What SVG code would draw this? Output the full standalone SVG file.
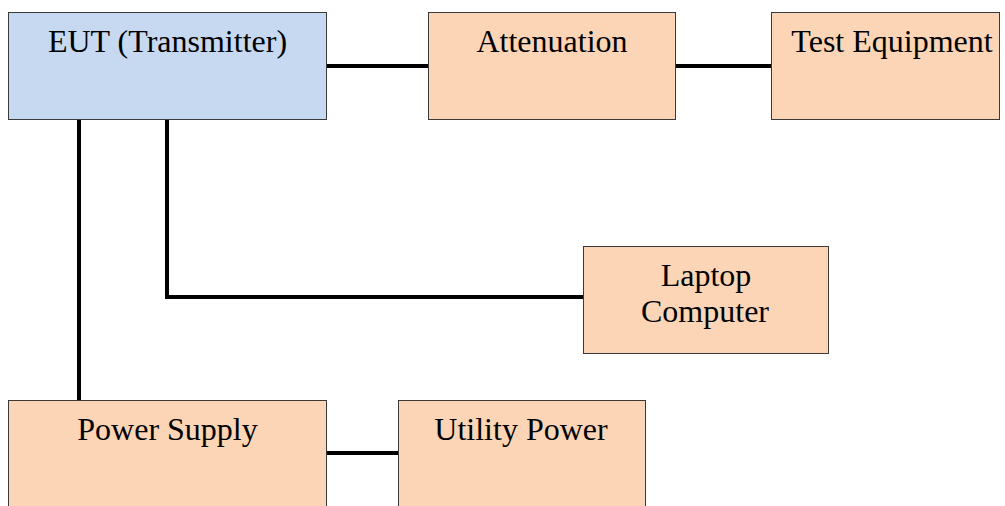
<svg xmlns="http://www.w3.org/2000/svg" width="1005" height="506" viewBox="0 0 1005 506">
<style>
.box{stroke:#3a3a3a;stroke-width:1}
.blue{fill:#c6d9f1}
.orange{fill:#fbd5b5}
.t{font-family:"Liberation Serif","Times New Roman",serif;font-size:32px;fill:#000;text-anchor:middle}
.c{stroke:#000;stroke-width:4;fill:none}
</style>
<rect width="1005" height="506" fill="#fff"/>
<g id="connectors">
<line class="c" x1="327" y1="66" x2="428" y2="66"/>
<line class="c" x1="676" y1="66" x2="771" y2="66"/>
<polyline class="c" points="167,120 167,297 583,297"/>
<line class="c" x1="79" y1="120" x2="79" y2="400"/>
<line class="c" x1="327" y1="453" x2="398" y2="453"/>
</g>
<g id="eut"><rect class="box blue" x="8.5" y="12.5" width="318" height="107"/><text class="t" x="167.5" y="52">EUT (Transmitter)</text></g>
<g id="attenuation"><rect class="box orange" x="428.5" y="12.5" width="247" height="107"/><text class="t" x="552" y="52">Attenuation</text></g>
<g id="test-equipment"><rect class="box orange" x="771.5" y="12.5" width="228" height="107"/><text class="t" x="892" y="52">Test Equipment</text></g>
<g id="laptop"><rect class="box orange" x="583.5" y="246.5" width="245" height="107"/><text class="t" x="706" y="286">Laptop</text><text class="t" x="705" y="322">Computer</text></g>
<g id="power-supply"><rect class="box orange" x="8.5" y="400.5" width="318" height="110"/><text class="t" x="167.5" y="440">Power Supply</text></g>
<g id="utility-power"><rect class="box orange" x="398.5" y="400.5" width="247" height="110"/><text class="t" x="521" y="440">Utility Power</text></g>
</svg>
